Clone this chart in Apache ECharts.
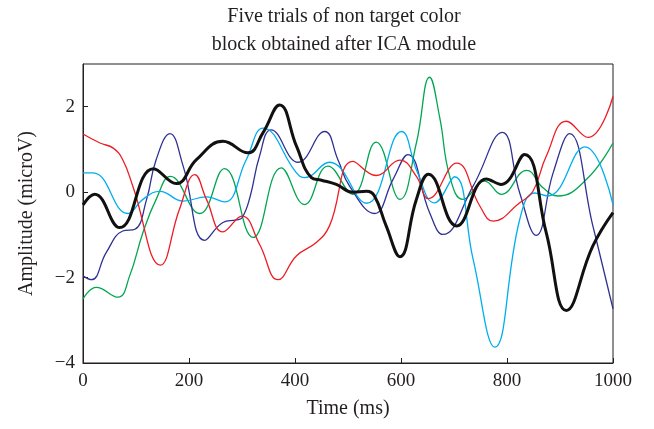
<!DOCTYPE html>
<html><head><meta charset="utf-8">
<script src="https://cdn.jsdelivr.net/npm/echarts@6/dist/echarts.min.js"></script>
<style>html,body{margin:0;padding:0;background:#fff}#c{width:654px;height:429px}</style>
</head><body><div id="c"></div>
<script>
// Data (time in ms, amplitude in microV)
const redT   = [0, 32, 57, 75, 94, 146, 182, 211, 233, 264, 300, 333, 368, 403, 440, 465, 509, 553, 598, 629, 652, 705, 749, 774, 824, 849, 874, 912, 953, 1000];
const redV   = [1.36, 1.15, 1.03, 0.76, 0.14, -1.71, -0.4, 0.41, -0.17, -0.93, -0.56, -1.22, -2.05, -1.49, -1.18, -0.79, 0.72, 0.39, 0.75, 0.37, -0.15, 0.68, -0.33, -0.68, -0.25, 0.02, 0.84, 1.66, 1.28, 2.24];
const navyT  = [0, 16, 44, 75, 98, 120, 138, 164, 189, 230, 264, 289, 300, 315, 333, 355, 406, 456, 481, 503, 550, 585, 613, 654, 679, 736, 791, 824, 855, 887, 918, 962, 1000];
const navyV  = [-1.96, -2.05, -1.41, -0.91, -0.87, -0.17, 0.76, 1.37, 0.61, -1.13, -0.71, -0.65, -0.6, -0.12, 0.84, 1.46, 0.7, 1.42, 0.76, 0.14, -0.5, 0.3, 0.88, -0.48, -0.99, 0.14, 1.40, -0.02, -1.01, 0.45, 1.37, -0.79, -2.73];
const cyanT  = [0, 19, 85, 113, 145, 189, 233, 267, 308, 340, 409, 418, 465, 535, 601, 631, 663, 701, 736, 777, 824, 852, 877, 947, 1000];
const cyanV  = [0.45, 0.45, -0.5, -0.17, 0.02, -0.21, -0.11, -0.23, 0.76, 1.5, 0.37, 0.34, 0.7, -0.26, 1.42, 0.46, -0.25, 0.36, -1.57, -3.63, -0.64, -0.02, -0.09, 1.06, -0.29];
const greenT = [0, 25, 66, 88, 113, 138, 165, 220, 267, 321, 374, 418, 462, 509, 553, 598, 629, 654, 673, 692, 717, 758, 789, 837, 868, 896, 950, 1000];
const greenV = [-2.5, -2.23, -2.46, -1.96, -0.95, -0.17, 0.37, -0.5, 0.55, -1.06, 0.57, -0.29, 0.61, -0.05, 1.17, -0.17, 1.15, 2.69, 1.75, 0.37, -0.17, 0.26, -0.05, 0.51, 0.1, -0.09, 0.3, 1.15];
const blackT = [0, 22, 69, 133, 176, 214, 264, 311, 340, 371, 403, 431, 450, 478, 509, 535, 550, 572, 598, 629, 652, 705, 761, 789, 833, 874, 912, 962, 1000];
const blackV = [-0.3, -0.05, -0.83, 0.55, 0.2, 0.76, 1.19, 0.92, 1.4, 2.04, 1.07, 0.34, 0.28, 0.18, 0.0, 0.02, -0.09, -0.79, -1.51, -0.17, 0.42, -0.79, 0.31, 0.18, 0.88, -0.95, -2.77, -1.26, -0.48];
const xTicks = [0, 200, 400, 600, 800, 1000];
const yTicks = [-4, -2, 0, 2];

const pair = (t, v) => t.map((x, i) => [x, v[i]]);
const txt = '#231f20';
const font = 'Liberation Serif';
const mk = (name, t, v, color, w) => ({
  name, type: 'line', data: pair(t, v), smooth: 0.45, showSymbol: false,
  lineStyle: { color, width: w }, itemStyle: { color }, animation: false
});

const chart = echarts.init(document.getElementById('c'), null, { renderer: 'canvas' });
chart.setOption({
  animation: false,
  title: {
    text: 'Five trials of non target color\nblock obtained after ICA module',
    left: 339, top: -2, textAlign: 'center',
    textStyle: { fontFamily: font, fontSize: 20, fontWeight: 'normal', color: txt, lineHeight: 28 }
  },
  grid: { left: 83, right: 41, top: 64, bottom: 66, show: true, borderColor: txt, borderWidth: 1 },
  xAxis: {
    type: 'value', min: xTicks[0], max: xTicks[xTicks.length - 1], interval: 200,
    name: 'Time (ms)', nameLocation: 'middle', nameGap: 36,
    nameTextStyle: { fontFamily: font, fontSize: 20, color: txt },
    axisLine: { show: true, onZero: false, lineStyle: { color: txt, width: 1 } },
    axisTick: { inside: true, length: 5, lineStyle: { color: txt } },
    axisLabel: { fontFamily: font, fontSize: 19, color: txt, margin: 9, formatter: v => String(v) },
    splitLine: { show: false }
  },
  yAxis: {
    type: 'value', min: yTicks[0], max: 3, interval: 2,
    name: 'Amplitude (microV)', nameLocation: 'middle', nameGap: 46,
    nameTextStyle: { fontFamily: font, fontSize: 20, color: txt },
    axisLine: { show: true, onZero: false, lineStyle: { color: txt, width: 1 } },
    axisTick: { inside: true, length: 5, lineStyle: { color: txt } },
    axisLabel: { fontFamily: font, fontSize: 19, color: txt, margin: 8, showMaxLabel: false,
      formatter: v => String(v).replace('-', '\u2212') },
    splitLine: { show: false }
  },
  series: [
    mk('green', greenT, greenV, '#00a651', 1.3),
    mk('navy', navyT, navyV, '#2e3192', 1.3),
    mk('cyan', cyanT, cyanV, '#00aeef', 1.3),
    mk('red', redT, redV, '#ed1c24', 1.3),
    mk('black', blackT, blackV, '#111111', 3)
  ]
});
</script></body></html>
